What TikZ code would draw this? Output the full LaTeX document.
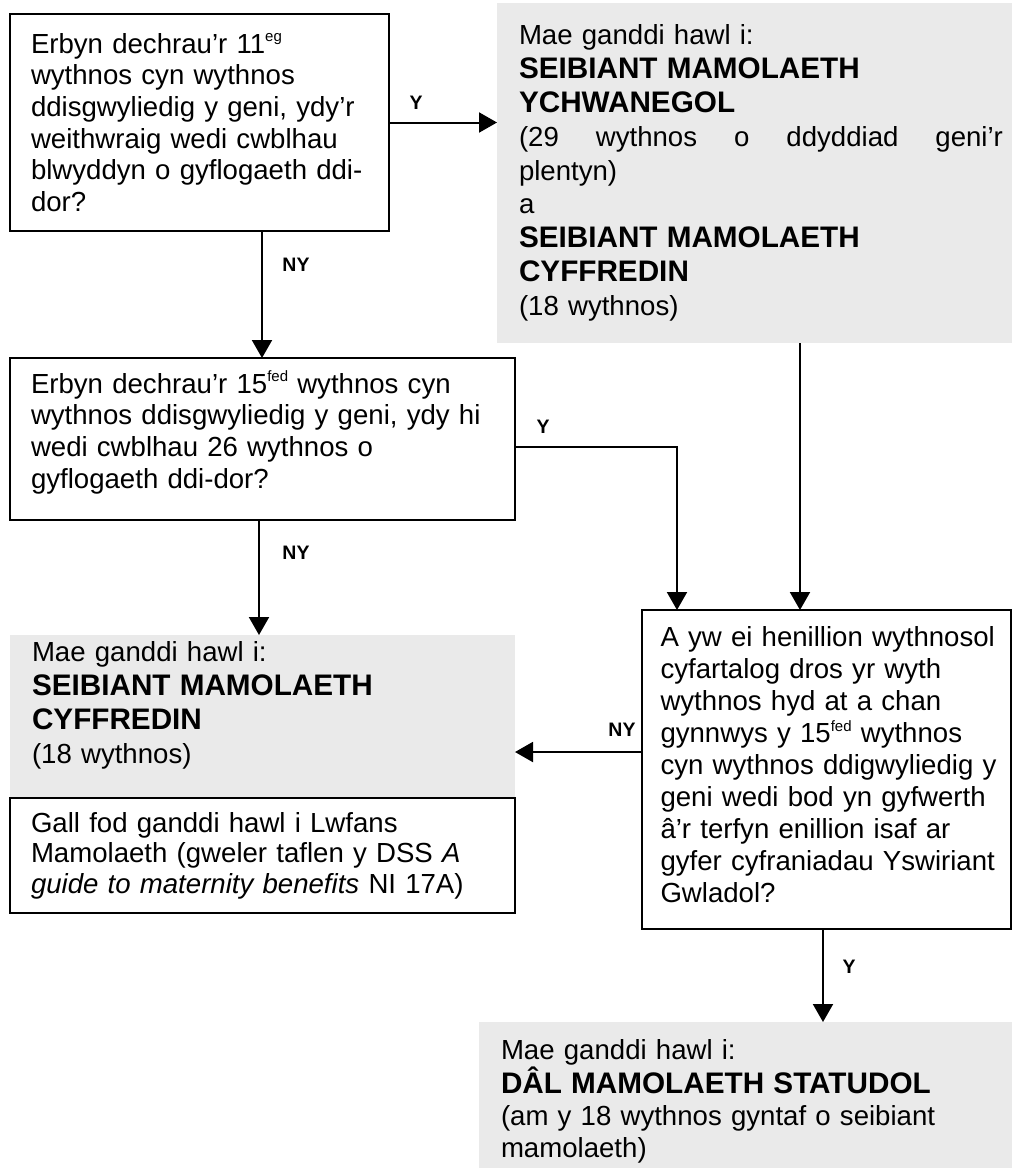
\documentclass[tikz,border=0pt]{standalone}
\usepackage{fontspec}
\setmainfont{Liberation Sans}
\usetikzlibrary{arrows.meta}
\definecolor{boxgrey}{RGB}{234,234,234}
\newcommand{\supx}[1]{\raisebox{11.5pt}{\fontsize{15}{15}\selectfont #1}}
\newcommand{\bighead}[1]{{\fontsize{29.7}{33.8}\selectfont\bfseries #1}}
\begin{document}
\begin{tikzpicture}[x=1pt,y=-1pt,
  every node/.style={inner sep=0pt, outer sep=0pt},
  qbox/.style={draw=black, line width=2pt, align=left, inner xsep=21pt, inner ysep=3pt,
    font=\fontsize{27.6}{31.7}\selectfont},
  gbox/.style={fill=boxgrey, align=left, inner xsep=22pt, inner ysep=3pt,
    font=\fontsize{27.6}{33.8}\selectfont},
  lbl/.style={font=\fontsize{19.5}{20}\selectfont\bfseries},
  conn/.style={line width=2pt, -{Triangle[length=18pt,width=20pt]}}
]
\fill[white] (0,0) rectangle (1012,1168);
\useasboundingbox (0,0) rectangle (1012,1168);

% boxes
\node[qbox, text width=337pt, minimum height=217pt] (q1) at (199.5,122.5)
  {Erbyn dechrau’r 11\supx{eg}\\
   wythnos cyn wythnos\\
   ddisgwyliedig y geni, ydy’r\\
   weithwraig wedi cwblhau\\
   \mbox{blwyddyn o gyflogaeth ddi-}\\
   dor?};

\node[gbox, text width=484pt, minimum height=340pt] (g1) at (761,173)
  {Mae ganddi hawl i:\\
   \bighead{SEIBIANT MAMOLAETH}\\
   \bighead{YCHWANEGOL}\\
   \leavevmode\hbox to 484pt{(29\hfill wythnos\hfill o\hfill ddyddiad\hfill geni’r}\\
   plentyn)\\
   a\\
   \bighead{SEIBIANT MAMOLAETH}\\
   \bighead{CYFFREDIN}\\
   (18 wythnos)};

\node[qbox, text width=463pt, minimum height=162pt] (q2) at (262.5,439)
  {Erbyn dechrau’r 15\supx{fed} wythnos cyn\\
   wythnos ddisgwyliedig y geni, ydy hi\\
   wedi cwblhau 26 wythnos o\\
   gyflogaeth ddi-dor?\rule[-19pt]{0pt}{0pt}};

\node[gbox, text width=461pt, minimum height=162pt] (g3) at (262.5,716)
  {Mae ganddi hawl i:\\
   \bighead{SEIBIANT MAMOLAETH}\\
   \bighead{CYFFREDIN}\\
   (18 wythnos)\rule[-27pt]{0pt}{0pt}};

\node[qbox, text width=463pt, minimum height=115pt,
      font=\fontsize{27.6}{30.5}\selectfont] (b5) at (262.5,855.5)
  {Gall fod ganddi hawl i Lwfans\\
   Mamolaeth (gweler taflen y DSS \textit{A}\\
   \textit{guide to maternity benefits} NI 17A)};

\node[qbox, text width=332pt, inner xsep=18.5pt, minimum height=319pt,
      font=\fontsize{27.6}{32}\selectfont] (q4) at (826.5,769.5)
  {\mbox{A yw ei henillion wythnosol}\\
   \mbox{cyfartalog dros yr wyth}\\
   \mbox{wythnos hyd at a chan}\\
   \mbox{gynnwys y 15\supx{fed} wythnos}\\
   \mbox{cyn wythnos ddigwyliedig y}\\
   \mbox{geni wedi bod yn gyfwerth}\\
   \mbox{â’r terfyn enillion isaf ar}\\
   \mbox{gyfer cyfraniadau Yswiriant}\\
   Gwladol?\rule[-10pt]{0pt}{0pt}};

\node[gbox, text width=489pt, minimum height=146pt,
      font=\fontsize{27.6}{32.3}\selectfont] (g4) at (745.5,1095)
  {\rule{0pt}{33pt}Mae ganddi hawl i:\\
   \bighead{DÂL MAMOLAETH STATUDOL}\\
   (am y 18 wythnos gyntaf o seibiant\\
   mamolaeth)};

% helper coordinates
\coordinate (xa) at (262,0);
\coordinate (xb) at (259,0);
\coordinate (yb) at (0,447);
\coordinate (xc) at (677,0);
\coordinate (xd) at (800,0);
\coordinate (ye) at (0,752);
\coordinate (xf) at (823,0);

% connectors
\draw[conn] (q1.east) -- (q1.east -| g1.west);
\draw[conn] (q1.south -| xa) -- (q2.north -| xa);
\draw[conn] (q2.south -| xb) -- (g3.north -| xb);
\draw[conn] (q2.east |- yb) -| (q4.north -| xc);
\draw[conn] (g1.south -| xd) -- (q4.north -| xd);
\draw[conn] (q4.west |- ye) -- (g3.east |- ye);
\draw[conn] (q4.south -| xf) -- (g4.north -| xf);

% labels
\node[lbl] (lY1) at (416,103) {Y};
\node[lbl] (lN1) at (296,265) {NY};
\node[lbl] (lY2) at (543,427) {Y};
\node[lbl] (lN2) at (296,553) {NY};
\node[lbl] (lN3) at (622,730) {NY};
\node[lbl] (lY3) at (849,967) {Y};
\end{tikzpicture}
\end{document}
